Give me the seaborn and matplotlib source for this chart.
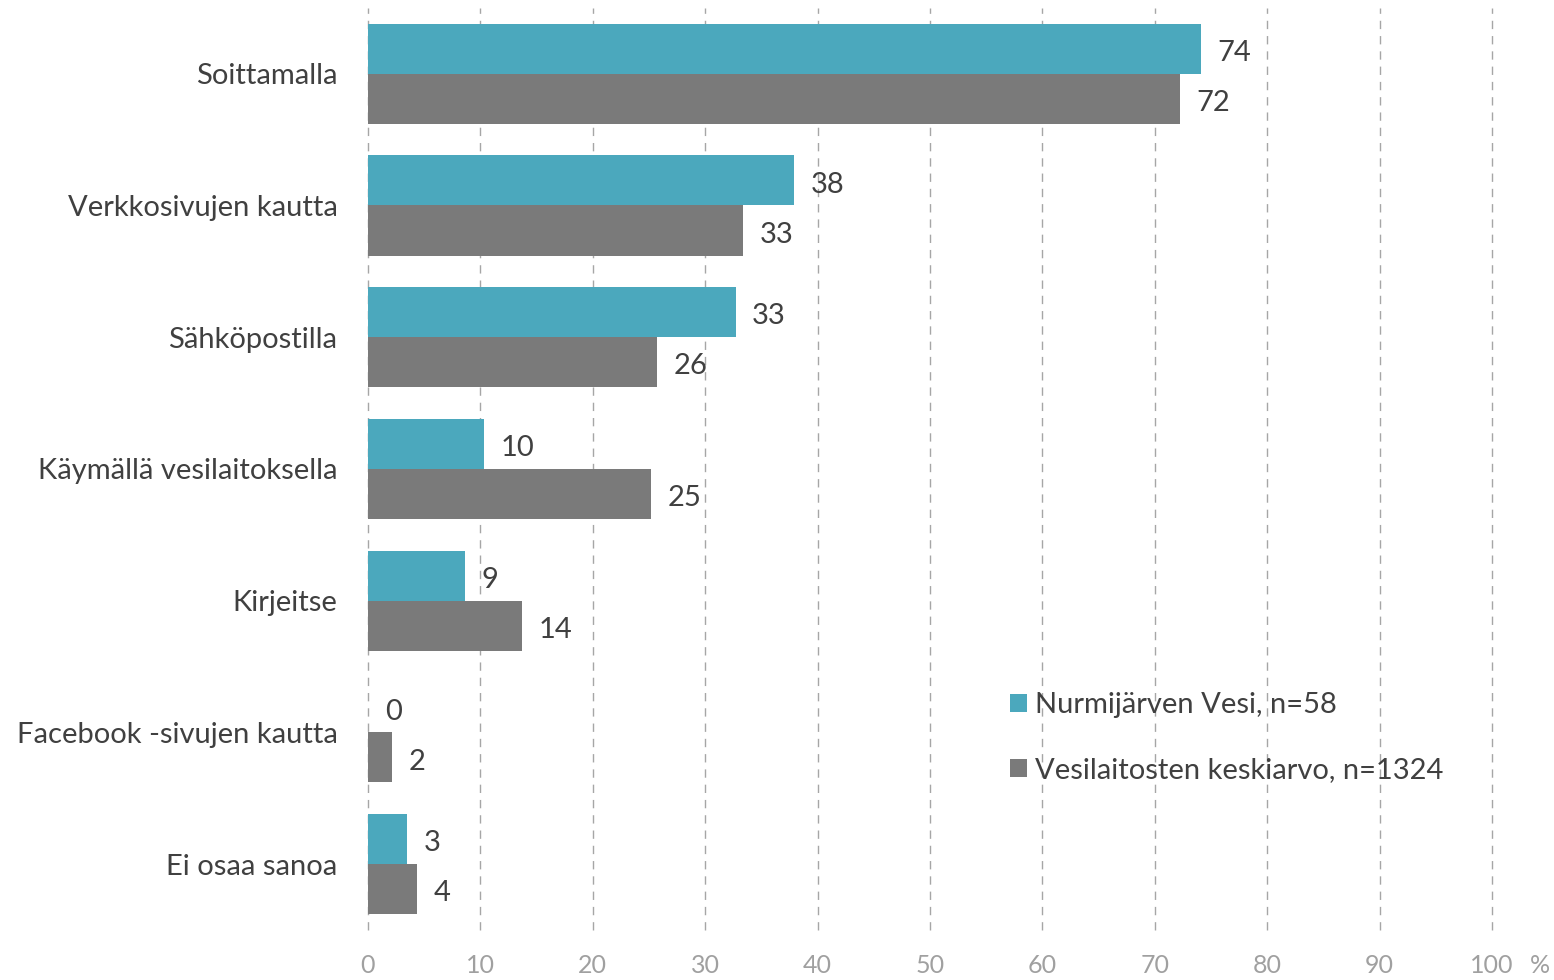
import pandas as pd
import matplotlib.pyplot as plt
import seaborn as sns

categories = ["Soittamalla", "Verkkosivujen kautta", "Sähköpostilla",
              "Käymällä vesilaitoksella", "Kirjeitse",
              "Facebook -sivujen kautta", "Ei osaa sanoa"]
series = ["Nurmijärven Vesi, n=58", "Vesilaitosten keskiarvo, n=1324"]
nurmi_vals = [74.1, 37.9, 32.7, 10.3, 8.6, 0.0, 3.5]
avg_vals = [72.2, 33.4, 25.7, 25.2, 13.7, 2.1, 4.4]
nurmi_labels = ["74", "38", "33", "10", "9", "0", "3"]
avg_labels = ["72", "33", "26", "25", "14", "2", "4"]
xticks = list(range(0, 101, 10))

colors = ["#4BA8BD", "#7A7A7A"]

sns.set_theme(style="white")
plt.rcParams["font.family"] = ["Lato", "DejaVu Sans"]

df = pd.DataFrame({
    "category": categories * 2,
    "series": [series[0]] * len(categories) + [series[1]] * len(categories),
    "value": nurmi_vals + avg_vals,
})

fig = plt.figure(figsize=(15.54, 9.8), dpi=100)
ax = fig.add_axes([0.2368, 0.051, 0.7233, 0.941])

sns.barplot(data=df, y="category", x="value", hue="series", order=categories,
            hue_order=series, palette=colors, orient="h", width=0.76,
            saturation=1, linewidth=0, ax=ax, errorbar=None)

for cont, labs in zip(ax.containers, [nurmi_labels, avg_labels]):
    for txt in ax.bar_label(cont, labels=labs, padding=12, fontsize=21,
                            color="#404040"):
        txt.set_y(txt.get_position()[1] - 3)

ax.set_xlim(0, 100)
ax.set_ylim(6.5, -0.5)
ax.set_xticks(xticks)
ax.set_xticklabels([str(t) for t in xticks], fontsize=18, color="#A0A0A0")
ax.tick_params(axis="x", length=0, pad=17)
ax.tick_params(axis="y", length=0, pad=22, labelsize=21, labelcolor="#404040")
ax.set_xlabel("")
ax.set_ylabel("")
for t in xticks:
    ax.axvline(t, color="#A6A6A6", linestyle=(0, (6, 5)), linewidth=1,
               zorder=0, clip_on=False)
for s in ax.spines.values():
    s.set_visible(False)

ax.annotate("%", xy=(1.043, 0), xycoords="axes fraction", xytext=(0, -17),
            textcoords="offset points", fontsize=18, color="#A0A0A0",
            ha="center", va="top")

ax.legend(loc="upper left", bbox_to_anchor=(0.571, 0.258), frameon=False,
          fontsize=21, handlelength=0.6, handleheight=0.6, handletextpad=0.25,
          labelspacing=1.34, labelcolor="#404040", borderpad=0, borderaxespad=0)

fig.savefig("out.png", dpi=100)
